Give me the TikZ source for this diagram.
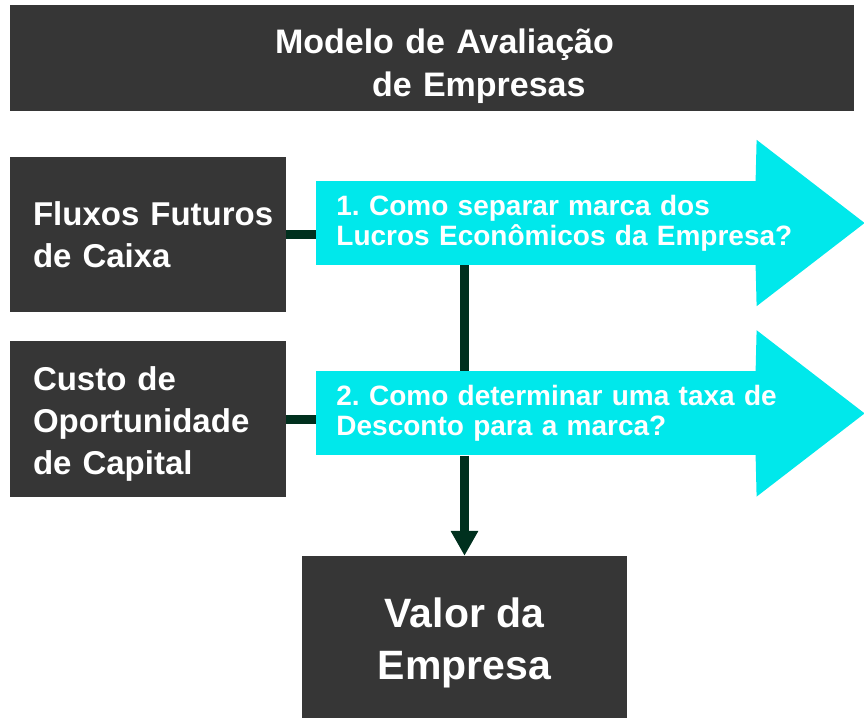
\documentclass[tikz,border=0pt]{standalone}
\usepackage{fontspec}
\setmainfont{Liberation Sans}
\usetikzlibrary{positioning, arrows.meta, backgrounds}
\definecolor{boxgray}{HTML}{363636}
\definecolor{qcyan}{HTML}{00E8EB}
\definecolor{linkgreen}{HTML}{00301E}
\frenchspacing

\begin{document}
\begin{tikzpicture}[
        x=1pt, y=-1pt,
        darkbox/.style={rectangle, fill=boxgray, text=white, inner ysep=0pt, font=\bfseries},
        sidebox/.style={darkbox, text width=230pt, inner xsep=23pt, minimum height=155pt, align=left, font=\fontsize{33pt}{42pt}\selectfont\bfseries},
        question/.style={rectangle, fill=qcyan, text=white, text width=400pt, inner xsep=20pt, inner ysep=0pt, minimum height=84pt, align=left, font=\fontsize{28pt}{30pt}\selectfont\bfseries},
        link/.style={draw=linkgreen, line width=9pt},
        head/.style={fill=qcyan}
    ]
        \useasboundingbox (0,0) rectangle (864,718);

        % Title
        \node[darkbox, text width=314pt, inner xsep=265pt, minimum height=106pt, align=left, font=\fontsize{34pt}{43pt}\selectfont\bfseries] (title) at (432,58) {\rule{0pt}{42pt}\mbox{Modelo de Avaliação}\\\hspace*{97pt}\mbox{de Empresas}};

        % Inputs
        \node[sidebox] (flux) at (148,234.5) {\mbox{Fluxos Futuros}\\\mbox{de Caixa}};
        \node[sidebox, below=29pt of flux, minimum height=156pt] (custo) {\rule{0pt}{34pt}\mbox{Custo de}\\\mbox{Oportunidade}\\\mbox{de Capital}};

        % Questions
        \node[question, right=30pt of flux, yshift=11.5pt] (q1) {\mbox{1. Como separar marca dos}\\\mbox{Lucros Econômicos da Empresa?}};
        \node[question, right=30pt of custo, yshift=6pt] (q2) {\mbox{2. Como determinar uma taxa de}\\\mbox{Desconto para a marca?}};

        % Result
        \node[darkbox, minimum width=325pt, minimum height=162pt, align=center, font=\fontsize{41pt}{52pt}\selectfont\bfseries] (valor) at (464.5,637) {\rule{0pt}{42pt}Valor da\\Empresa};

        % Arrow heads
        \begin{scope}[on background layer]
            \fill[head] ([xshift=-1pt]q1.north east) -- ([yshift=41pt]q1.north east) -- ([xshift=108pt]q1.east) -- ([yshift=-41pt]q1.south east) -- ([xshift=-1pt]q1.south east) -- cycle;
            \fill[head] ([xshift=-1pt]q2.north east) -- ([yshift=41pt]q2.north east) -- ([xshift=108pt]q2.east) -- ([yshift=-41pt]q2.south east) -- ([xshift=-1pt]q2.south east) -- cycle;
        \end{scope}

        % Connections
        \draw[link] (flux.east) -- (flux.east -| q1.west);
        \draw[link] (custo.east) -- (custo.east -| q2.west);
        \draw[link] (valor.north |- q1.south) -- (valor.north |- q2.north);
        \draw[link, -{Triangle[length=25pt, width=26pt]}] (valor.north |- q2.south) -- (valor.north);
    \end{tikzpicture}
\end{document}
